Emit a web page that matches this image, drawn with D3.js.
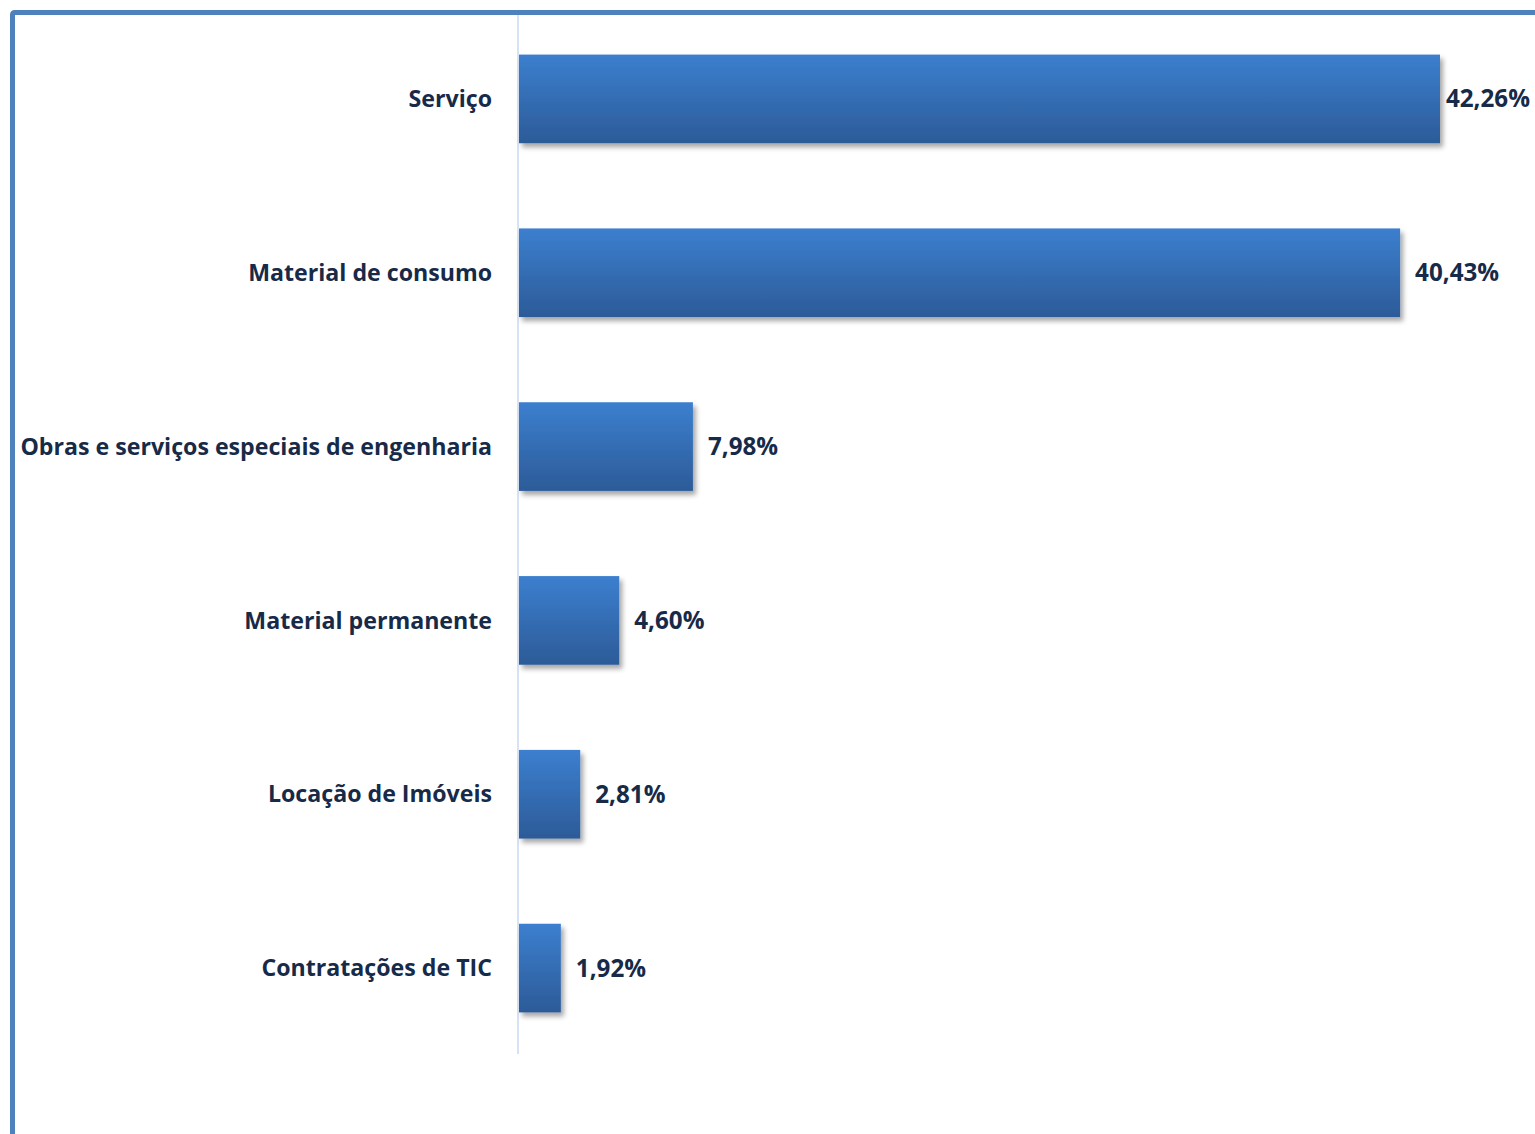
<!DOCTYPE html>
<html>
<head>
<meta charset="utf-8">
<script src="https://cdn.jsdelivr.net/npm/d3@7"></script>
<style>
    body { margin: 0; background: #fff; }
    svg { display: block; }
</style>
</head>
<body>
<div id="chart"></div>
<script>
var categories = ["Serviço", "Material de consumo", "Obras e serviços especiais de engenharia",
    "Material permanente", "Locação de Imóveis", "Contratações de TIC"],
    values = [42.26, 40.43, 7.98, 4.60, 2.81, 1.92];

var width = 1535,
    height = 1134,
    axisX = 519,
    textColor = "#172a48";

var svg = d3.select("#chart").append("svg")
    .attr("width", width)
    .attr("height", height);

var defs = svg.append("defs");
var grad = defs.append("linearGradient")
    .attr("id", "barGrad")
    .attr("x1", 0).attr("y1", 0).attr("x2", 0).attr("y2", 1);
grad.append("stop").attr("offset", "0%").attr("stop-color", "#3c7fcf");
grad.append("stop").attr("offset", "100%").attr("stop-color", "#2c5b98");

var shadow = defs.append("filter")
    .attr("id", "shadow")
    .attr("x", "-10%").attr("y", "-10%")
    .attr("width", "130%").attr("height", "140%");
shadow.append("feDropShadow")
    .attr("dx", 3).attr("dy", 4)
    .attr("stdDeviation", 2.5)
    .attr("flood-color", "#000")
    .attr("flood-opacity", 0.35);

// outer frame (runs off right / bottom edge)
svg.append("rect")
    .attr("x", 12.5).attr("y", 12.5)
    .attr("width", width + 20).attr("height", height + 20)
    .attr("fill", "none")
    .attr("stroke", "#4f81bd")
    .attr("stroke-width", 5)
    .attr("rx", 2);

var x = d3.scaleLinear()
    .domain([0, 45])
    .range([axisX, axisX + 45 * 921 / 42.26]);

var y = d3.scaleBand()
    .domain(categories)
    .range([12, 1055])
    .paddingInner(0.49)
    .paddingOuter(0.245);

// category axis line
svg.append("line")
    .attr("x1", axisX - 1).attr("x2", axisX - 1)
    .attr("y1", 15).attr("y2", 1054)
    .attr("stroke", "#d6e3f4")
    .attr("stroke-width", 2);

svg.selectAll(".bar")
    .data(values)
    .enter().append("rect")
    .attr("class", "bar")
    .attr("x", x(0))
    .attr("y", function (d, i) { return y(categories[i]); })
    .attr("width", function (d) { return x(d) - x(0); })
    .attr("height", y.bandwidth())
    .attr("fill", "url(#barGrad)")
    .attr("filter", "url(#shadow)");

var labelFont = "'Open Sans', 'Noto Sans', sans-serif";

var catLabels = svg.selectAll(".catLabel")
    .data(categories)
    .enter().append("text")
    .attr("class", "catLabel")
    .text(function (d) { return d; })
    .attr("x", 492)
    .attr("y", function (d) { return y(d) + y.bandwidth() / 2; })
    .attr("dy", "0.35em")
    .style("text-anchor", "end")
    .style("font-family", labelFont)
    .style("font-weight", 700)
    .style("font-size", "22px")
    .style("fill", textColor);

// shrink font so the longest label spans the same width as the reference
var longest = d3.max(catLabels.nodes(), function (n) { return n.getComputedTextLength(); });
var fontSize = 22 * 472 / longest;
catLabels.style("font-size", fontSize + "px");

svg.selectAll(".valLabel")
    .data(values)
    .enter().append("text")
    .attr("class", "valLabel")
    .text(function (d) { return d.toFixed(2).replace(".", ",") + "%"; })
    .attr("y", function (d, i) { return y(categories[i]) + y.bandwidth() / 2; })
    .attr("dy", "0.35em")
    .style("font-family", labelFont)
    .style("font-weight", 700)
    .style("font-size", (fontSize * 1.045) + "px")
    .style("fill", textColor)
    .attr("x", function (d) {
        var w = this.getComputedTextLength();
        return Math.min(x(d) + 15, width - 5 - w);
    });
</script>
</body>
</html>
